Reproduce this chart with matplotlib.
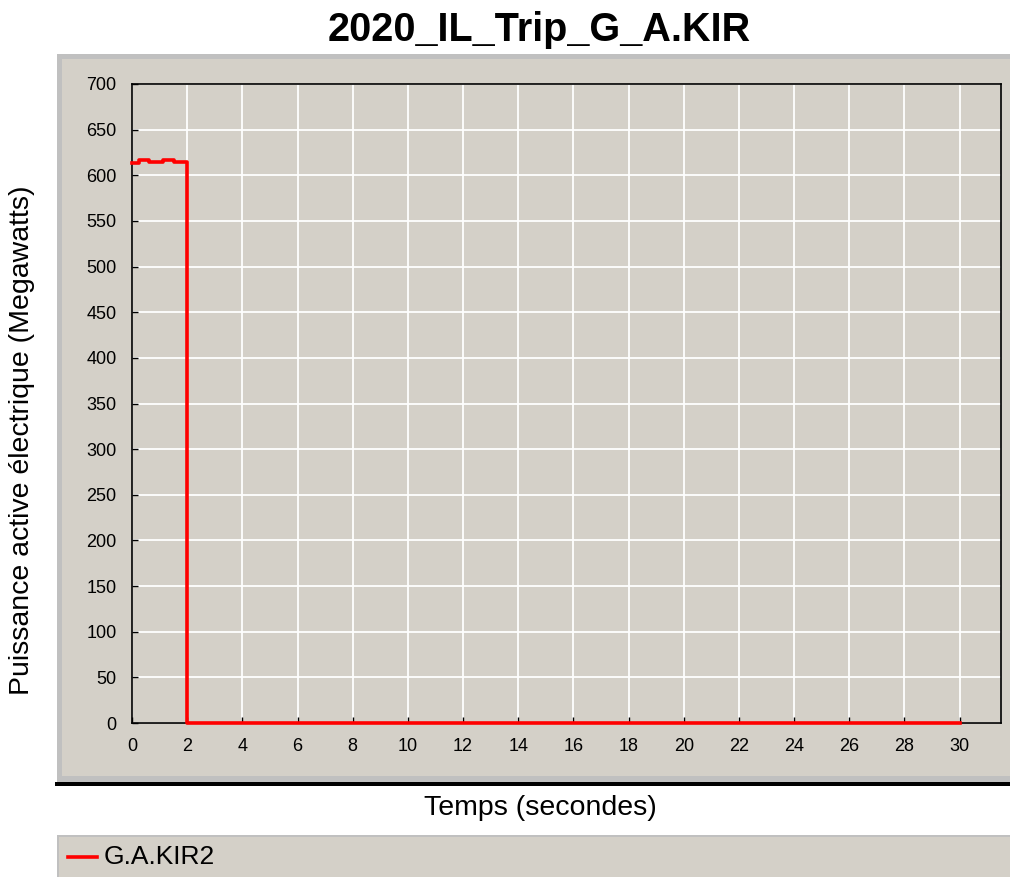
import matplotlib
matplotlib.use("Agg")
import matplotlib.pyplot as plt
from matplotlib.patches import Rectangle
from matplotlib.lines import Line2D

# Series data
time_s = [0.0, 0.27, 0.63, 1.11, 1.52, 2.0, 30.0]
power_mw = [614, 617, 615, 617, 615, 0, 0]
series_name = "G.A.KIR2"
x_ticks = list(range(0, 31, 2))
y_ticks = list(range(0, 701, 50))

title = "2020_IL_Trip_G_A.KIR"
xlabel = "Temps (secondes)"
ylabel = "Puissance active électrique (Megawatts)"

W, H = 1010, 877
panel = "#d4d0c8"
border = "#c0c0c0"
plt.rcParams["font.family"] = ["Liberation Sans", "DejaVu Sans"]

fig = plt.figure(figsize=(W / 100, H / 100), dpi=100)
fig.patch.set_facecolor("white")


def fx(px):
    return px / W


def fy(py):
    return 1 - py / H


def box(x0, y0, x1, y1, color, z=-10):
    fig.patches.append(Rectangle((fx(x0), fy(y1)), fx(x1 - x0), (y1 - y0) / H,
                                 transform=fig.transFigure, facecolor=color,
                                 edgecolor="none", zorder=z))


# Plot panel with light frame
box(57, 54, 1010, 783, border)
box(62, 59, 1010, 776, panel, -9)
# Thick dark rule under the panel
box(55, 782, 1010, 786, "black", -8)
# Legend strip
box(57, 835, 1010, 877, border)
box(59, 837, 1010, 877, panel, -9)

ax = fig.add_axes([fx(132), fy(723), fx(1001 - 132), (723 - 84) / H])
ax.set_zorder(1)
ax.set_facecolor(panel)
ax.set_xlim(0, 31.5)
ax.set_ylim(0, 700)
ax.set_xticks(x_ticks)
ax.set_yticks(y_ticks)
ax.grid(True, color="white", linewidth=1.3)
ax.set_axisbelow(True)
for s in ax.spines.values():
    s.set_color("black")
    s.set_linewidth(1.2)
ax.tick_params(direction="in", length=4, width=1, colors="black",
               labelsize=13)
ax.tick_params(axis="x", pad=11)
ax.tick_params(axis="y", pad=11)

ax.step(time_s, power_mw, where="post", color="#ff0000", linewidth=2.6,
        zorder=3, clip_on=False)

fig.text(fx(539), fy(30), title, ha="center", va="center",
         fontsize=28.5, fontweight="bold")
fig.text(fx(540), fy(808), xlabel, ha="center", va="center", fontsize=20.5)
fig.text(fx(22), fy(440), ylabel, ha="center", va="center", fontsize=20.5,
         rotation=90)

# Legend entry
fig.add_artist(Line2D([fx(68), fx(97)], [fy(857), fy(857)],
                      transform=fig.transFigure, color="#ff0000",
                      linewidth=2.6))
fig.text(fx(104), fy(857), series_name, ha="left", va="center", fontsize=19)

fig.savefig("out.png", dpi=100, facecolor="white")
